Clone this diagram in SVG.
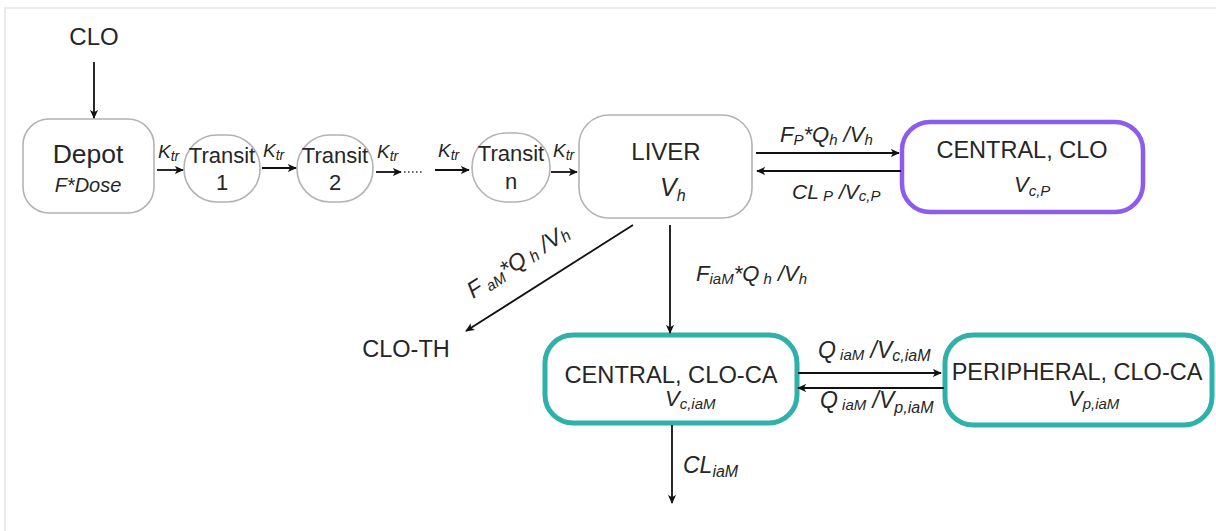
<svg xmlns="http://www.w3.org/2000/svg" width="1216" height="531" viewBox="0 0 1216 531">
<defs>
<marker id="ah" viewBox="0 0 10 10" refX="9" refY="5" markerWidth="9" markerHeight="9" markerUnits="userSpaceOnUse" orient="auto">
<path d="M0,0.5 L10,5 L0,9.5 L2.5,5 Z" fill="#111"/>
</marker>
<style>
.t{font-family:"Liberation Sans",Arial,sans-serif;fill:#262626}
.i{font-family:"Liberation Sans",Arial,sans-serif;font-style:italic;fill:#262626}
.g{fill:#fff;stroke:#b3b3b3;stroke-width:1.6}
.p{fill:#fff;stroke:#8c5cf0;stroke-width:4.5}
.c{fill:#fff;stroke:#2fb0aa;stroke-width:5}
.ea{stroke:#111;stroke-width:1.8;fill:none;marker-end:url(#ah)}
</style>
</defs>
<rect width="1216" height="531" fill="#fff"/>
<path d="M5,531 V8 H1216" fill="none" stroke="#ececec" stroke-width="2"/>

<g id="clo-source"><text class="t" x="94" y="45" font-size="24" text-anchor="middle">CLO</text></g>

<g id="depot">
<rect class="g" x="23" y="119" width="131" height="94" rx="26"/>
<text class="t" x="88" y="163" font-size="26.5" text-anchor="middle">Depot</text>
<text class="i" x="88" y="192" font-size="20" text-anchor="middle">F*Dose</text>
</g>
<g id="transit1">
<rect class="g" x="184" y="135" width="76" height="67" rx="33"/>
<text class="t" x="222" y="163" font-size="22" text-anchor="middle">Transit</text>
<text class="t" x="222" y="190" font-size="22" text-anchor="middle">1</text>
</g>
<g id="transit2">
<rect class="g" x="297" y="135" width="76" height="67" rx="33"/>
<text class="t" x="335" y="163" font-size="22" text-anchor="middle">Transit</text>
<text class="t" x="335" y="190" font-size="22" text-anchor="middle">2</text>
</g>
<g id="transitn">
<rect class="g" x="472" y="133" width="78" height="69" rx="34"/>
<text class="t" x="511" y="161" font-size="22" text-anchor="middle">Transit</text>
<text class="t" x="511" y="189" font-size="22" text-anchor="middle">n</text>
</g>
<g id="liver">
<rect class="g" x="579" y="115" width="173" height="103" rx="30"/>
<text class="t" x="666" y="160" font-size="24" text-anchor="middle">LIVER</text>
<text class="i" x="660" y="196" font-size="25">V<tspan font-size="16" dy="5">h</tspan></text>
</g>
<g id="central-clo">
<rect class="p" x="902" y="122" width="241" height="90" rx="28"/>
<text class="t" x="1022" y="158" font-size="23.5" text-anchor="middle">CENTRAL, CLO</text>
<text class="i" x="1014" y="192" font-size="22">V<tspan font-size="15" dy="4">c,P</tspan></text>
</g>
<g id="clo-th"><text class="t" x="406" y="357" font-size="23.5" text-anchor="middle">CLO-TH</text></g>
<g id="central-clo-ca">
<rect class="c" x="545" y="335" width="252" height="88" rx="28"/>
<text class="t" x="671" y="383" font-size="23.7" text-anchor="middle">CENTRAL, CLO-CA</text>
<text class="i" x="665" y="406" font-size="22">V<tspan font-size="15" dy="3">c,iaM</tspan></text>
</g>
<g id="peripheral-clo-ca">
<rect class="c" x="945" y="335" width="267" height="90" rx="28"/>
<text class="t" x="1077" y="380" font-size="23.5" text-anchor="middle">PERIPHERAL, CLO-CA</text>
<text class="i" x="1068" y="406" font-size="22">V<tspan font-size="15" dy="3">p,iaM</tspan></text>
</g>

<g id="connectors">
<line class="ea" x1="94" y1="62" x2="94" y2="118"/>
<line class="ea" x1="157" y1="170" x2="183" y2="170"/>
<line class="ea" x1="262" y1="168" x2="296" y2="168"/>
<line class="ea" x1="376" y1="172" x2="401" y2="172"/>
<line x1="404" y1="172" x2="424" y2="172" stroke="#333" stroke-width="1.5" stroke-dasharray="1.5,2.5"/>
<line class="ea" x1="435" y1="170" x2="469" y2="170"/>
<line class="ea" x1="551" y1="172" x2="577" y2="172"/>
<line class="ea" x1="756" y1="153" x2="899" y2="153"/>
<line class="ea" x1="901" y1="171" x2="757" y2="171"/>
<line class="ea" x1="633" y1="225" x2="466" y2="331"/>
<line class="ea" x1="670" y1="225" x2="670" y2="333"/>
<line class="ea" x1="798" y1="373" x2="941" y2="373"/>
<line class="ea" x1="944" y1="388" x2="798" y2="388"/>
<line class="ea" x1="672" y1="425" x2="672" y2="503"/>
</g>

<g id="labels">
<text class="i" x="158" y="158" font-size="19">K<tspan font-size="14" dy="3">tr</tspan></text>
<text class="i" x="263" y="157" font-size="19">K<tspan font-size="14" dy="3">tr</tspan></text>
<text class="i" x="377" y="158" font-size="19">K<tspan font-size="14" dy="3">tr</tspan></text>
<text class="i" x="438" y="157" font-size="19">K<tspan font-size="14" dy="3">tr</tspan></text>
<text class="i" x="553" y="157" font-size="19">K<tspan font-size="14" dy="3">tr</tspan></text>
<text class="i" x="780" y="142" font-size="22">F<tspan font-size="15" dy="3">P</tspan><tspan dy="-3">*Q</tspan><tspan font-size="15" dy="3">h</tspan><tspan dy="-3"> /V</tspan><tspan font-size="15" dy="3">h</tspan></text>
<text class="i" x="792" y="199" font-size="21">CL<tspan font-size="15" dy="2"> P</tspan><tspan dy="-2"> /V</tspan><tspan font-size="15" dy="2">c,P</tspan></text>
<text class="i" transform="translate(473,299) rotate(-32.5)" font-size="23">F<tspan font-size="15" dy="3"> aM</tspan><tspan dy="-3">*Q</tspan><tspan font-size="16" dy="2"> h</tspan><tspan dy="-2"> /V</tspan><tspan font-size="16" dy="2">h</tspan></text>
<text class="i" x="696" y="281" font-size="22">F<tspan font-size="15" dy="3">iaM</tspan><tspan dy="-3">*Q</tspan><tspan font-size="15" dy="3"> h</tspan><tspan dy="-3"> /V</tspan><tspan font-size="15" dy="3">h</tspan></text>
<text class="i" x="818" y="358" font-size="23">Q<tspan font-size="15" dy="2"> iaM</tspan><tspan dy="-2"> /V</tspan><tspan font-size="16" dy="3">c,iaM</tspan></text>
<text class="i" x="820" y="408" font-size="23">Q<tspan font-size="15" dy="2"> iaM</tspan><tspan dy="-2"> /V</tspan><tspan font-size="16" dy="5">p,iaM</tspan></text>
<text class="i" x="683" y="473" font-size="23">CL<tspan font-size="16" dy="4">iaM</tspan></text>
</g>
</svg>
